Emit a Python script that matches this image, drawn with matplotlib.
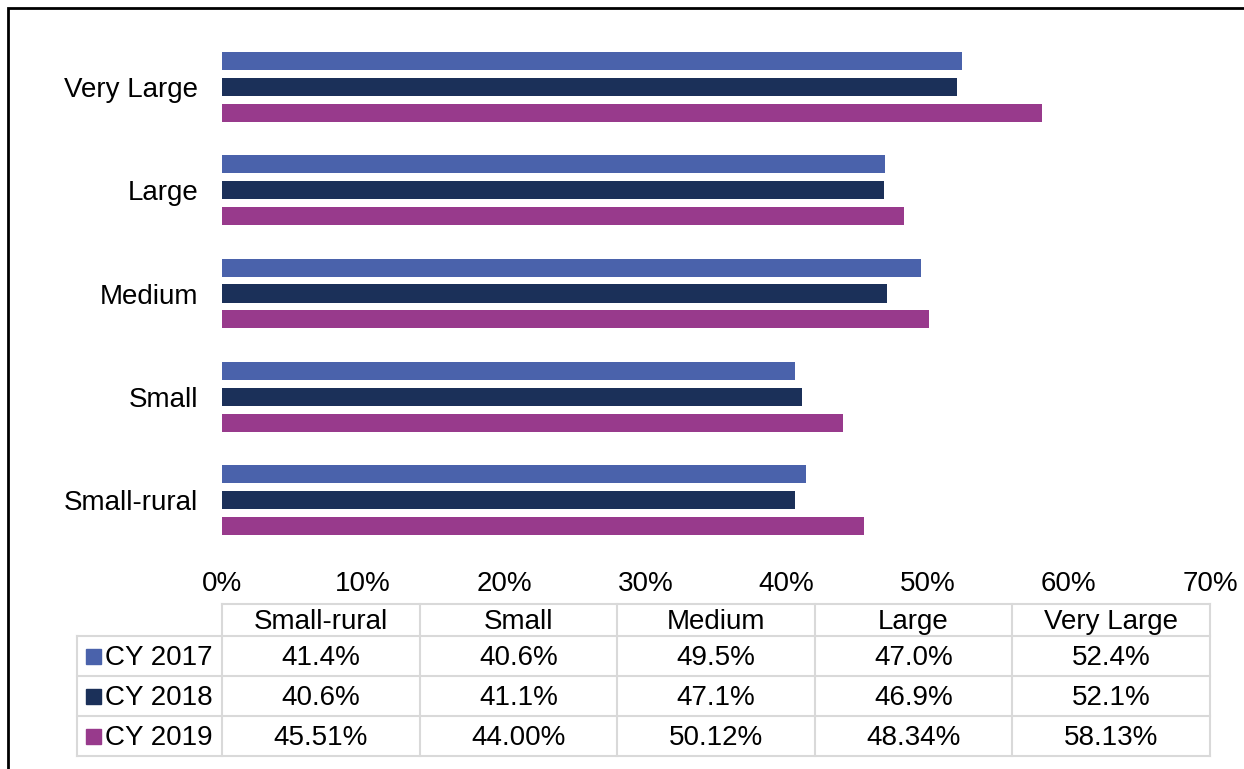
import matplotlib.pyplot as plt
from matplotlib.lines import Line2D
from matplotlib.patches import Rectangle

plt.rcParams['font.family'] = ['Liberation Sans', 'DejaVu Sans']

categories = ['Small-rural', 'Small', 'Medium', 'Large', 'Very Large']
series = ['CY 2017', 'CY 2018', 'CY 2019']
cy2017 = [41.4, 40.6, 49.5, 47.0, 52.4]
cy2018 = [40.6, 41.1, 47.1, 46.9, 52.1]
cy2019 = [45.51, 44.00, 50.12, 48.34, 58.13]
labels2017 = ['41.4%', '40.6%', '49.5%', '47.0%', '52.4%']
labels2018 = ['40.6%', '41.1%', '47.1%', '46.9%', '52.1%']
labels2019 = ['45.51%', '44.00%', '50.12%', '48.34%', '58.13%']
colors = ['#4A62AB', '#1B3059', '#983A8C']

W, H = 1244, 769
FS = 20
fig = plt.figure(figsize=(W / 100, H / 100), dpi=100)

def fx(px):
    return px / W

def fy(py):
    return 1 - py / H

# plot area
x0, x1 = 222, 1210
ax = fig.add_axes([fx(x0), fy(552), fx(x1 - x0), fy(35) - fy(552)])
values = [cy2017, cy2018, cy2019]
offsets = [0.25, 0.0, -0.25]
for vals, off, c in zip(values, offsets, colors):
    ax.barh([i + off for i in range(len(categories))], vals, height=0.175,
            color=c, edgecolor='none')
ax.set_xlim(0, 70)
ax.set_ylim(-0.5, 4.5)
ax.set_xticks(range(0, 71, 10))
ax.set_xticklabels([f'{t}%' for t in range(0, 71, 10)], fontsize=FS)
ax.set_yticks(range(len(categories)))
ax.set_yticklabels(categories, fontsize=FS)
ax.tick_params(length=0)
ax.tick_params(axis='y', pad=17)
ax.tick_params(axis='x', pad=14)
for s in ax.spines.values():
    s.set_visible(False)

# data table below the axis
grid = '#D9D9D9'
col_w = (x1 - x0) / len(categories)
row_y = [604, 636, 676, 716, 756]
lab_x = 77
dy = 2  # nudge text to sit in the middle of each cell

def hline(y, xa, xb):
    fig.add_artist(Line2D([fx(xa), fx(xb)], [fy(y), fy(y)], color=grid, lw=1.5))

def vline(x, ya, yb):
    fig.add_artist(Line2D([fx(x), fx(x)], [fy(ya), fy(yb)], color=grid, lw=1.5))

hline(row_y[0], x0, x1)
for y in row_y[1:]:
    hline(y, lab_x, x1)
vline(lab_x, row_y[1], row_y[-1])
for k in range(len(categories) + 1):
    vline(x0 + k * col_w, row_y[0], row_y[-1])

for k, cat in enumerate(categories):
    fig.text(fx(x0 + (k + 0.5) * col_w), fy((row_y[0] + row_y[1]) / 2 + dy), cat,
             ha='center', va='center', fontsize=FS)

row_labels = [labels2017, labels2018, labels2019]
for r, (name, labs, c) in enumerate(zip(series, row_labels, colors)):
    yc = (row_y[r + 1] + row_y[r + 2]) / 2
    fig.add_artist(Rectangle((fx(86), fy(yc + 7.5)), fx(15), fy(0) - fy(15),
                             color=c, transform=fig.transFigure))
    fig.text(fx(105), fy(yc + dy), name, ha='left', va='center', fontsize=FS)
    for k, t in enumerate(labs):
        fig.text(fx(x0 + (k + 0.5) * col_w), fy(yc + dy), t,
                 ha='center', va='center', fontsize=FS)

# outer frame
fig.add_artist(Rectangle((fx(8), fy(H + 20)), fx(W + 20), fy(8) - fy(H + 20),
                         fill=False, edgecolor='black', lw=2,
                         transform=fig.transFigure))

fig.savefig('out.png', dpi=100)
